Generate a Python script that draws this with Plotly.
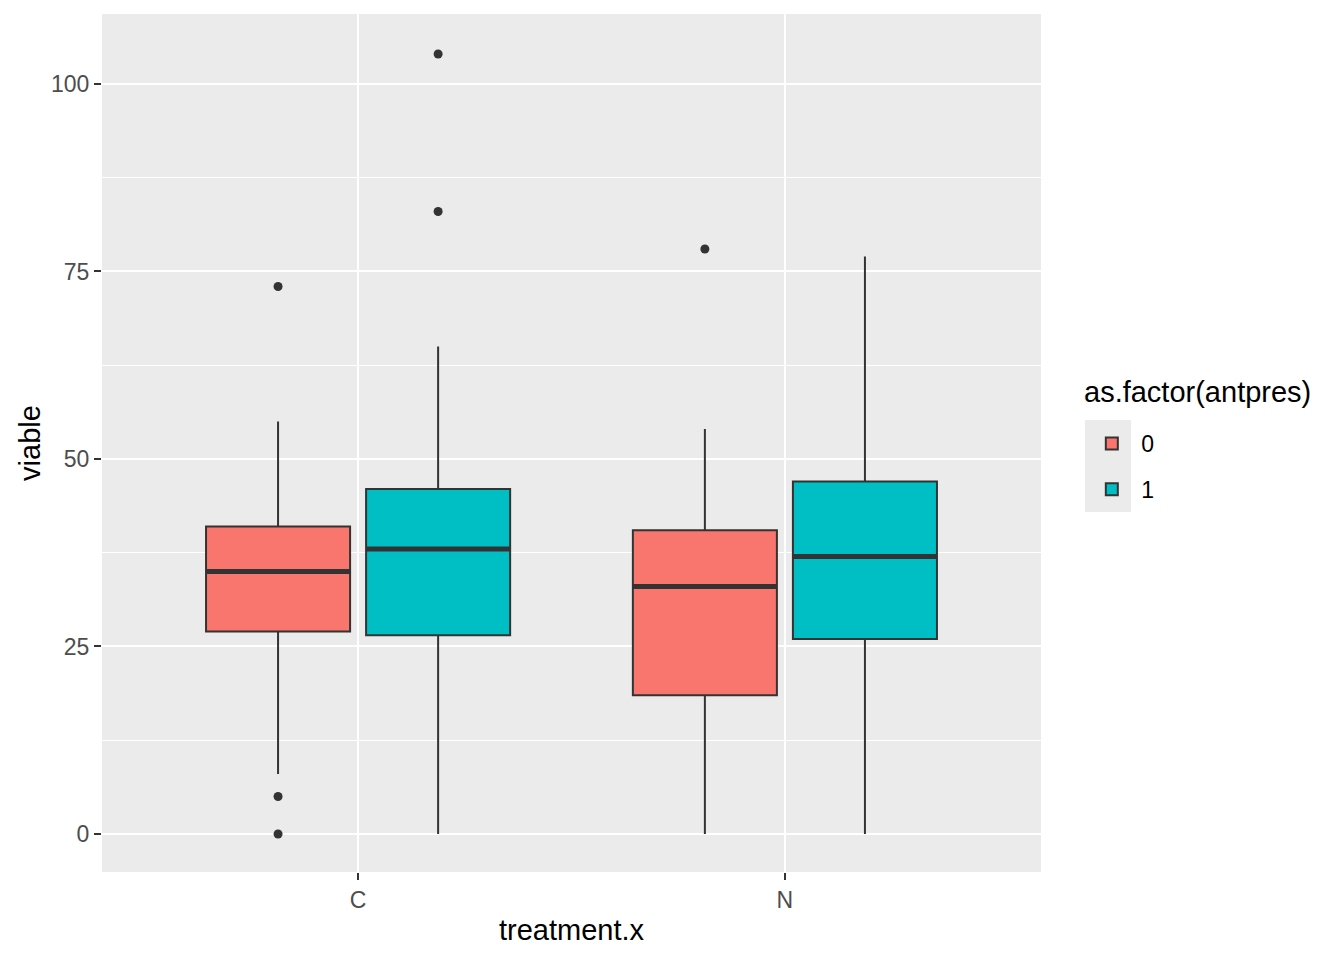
import plotly.graph_objects as go

# ---- data ----
treatments = ["C", "N"]
groups = ["0", "1"]
colors = {"0": "#F8766D", "1": "#00BFC4"}

q1 = {"0": [27, 18.5], "1": [26.5, 26]}
median = {"0": [35, 33], "1": [38, 37]}
q3 = {"0": [41, 40.5], "1": [46, 47]}
lower = {"0": [8, 0], "1": [0, 0]}
upper = {"0": [55, 54], "1": [65, 77]}
outliers = {
    "0": [[73, 5, 0], [78]],
    "1": [[83, 104], []],
}
legend_title = "as.factor(antpres)"

# ---- layout helpers ----
box_w = 0.3375
offsets = {"0": -0.1875, "1": 0.1875}
line_col = "#333333"

fig = go.Figure()
for g in groups:
    xs = [i + 1 + offsets[g] for i in range(len(treatments))]
    fig.add_trace(go.Box(
        x=xs, q1=q1[g], median=median[g], q3=q3[g],
        lowerfence=lower[g], upperfence=upper[g],
        width=box_w, whiskerwidth=0,
        fillcolor=colors[g], line=dict(color=line_col, width=2),
        name=g, legendgroup=g, boxpoints=False, hoverinfo="skip",
    ))
    for i, x in enumerate(xs):
        fig.add_trace(go.Scatter(
            x=[x - box_w / 2, x + box_w / 2], y=[median[g][i]] * 2,
            mode="lines", line=dict(color=line_col, width=5),
            showlegend=False, hoverinfo="skip",
        ))
        if outliers[g][i]:
            fig.add_trace(go.Scatter(
                x=[x] * len(outliers[g][i]), y=outliers[g][i],
                mode="markers", marker=dict(color=line_col, size=9),
                showlegend=False, hoverinfo="skip",
            ))

fig.update_layout(
    width=1344, height=960,
    margin=dict(l=94, r=311, t=6, b=96),
    paper_bgcolor="white", plot_bgcolor="#EBEBEB",
    font=dict(family="Liberation Sans, Arial, sans-serif", color="#000000"),
    legend=dict(
        font=dict(size=23), x=1.044, xanchor="left", y=0.5245, yanchor="top",
        bgcolor="rgba(0,0,0,0)", tracegroupgap=13, itemwidth=49,
    ),
    showlegend=True,
    annotations=[dict(
        text=legend_title, xref="paper", yref="paper", x=1.044, y=0.5594,
        xanchor="left", yanchor="middle", showarrow=False, font=dict(size=29),
    )],
    shapes=[dict(
        type="rect", xref="paper", yref="paper", x0=1.0469, x1=1.0958,
        y0=0.4196, y1=0.5268, fillcolor="#EBEBEB", line=dict(width=0), layer="below",
    )],
)
fig.update_xaxes(
    range=[0.4, 2.6], tickvals=[1, 2], ticktext=treatments,
    showgrid=True, gridcolor="white", gridwidth=2, zeroline=False,
    ticks="outside", ticklen=7, tickwidth=2, tickcolor=line_col,
    tickfont=dict(size=23, color="#4D4D4D"),
    title=dict(text="treatment.x", font=dict(size=29), standoff=8),
)
fig.update_yaxes(
    range=[-5.07, 109.33], tickvals=[0, 25, 50, 75, 100],
    showgrid=True, gridcolor="white", gridwidth=2, zeroline=False,
    minor=dict(tickvals=[12.5, 37.5, 62.5, 87.5], showgrid=True, gridcolor="white", gridwidth=1),
    ticks="outside", ticklen=7, tickwidth=2, tickcolor=line_col,
    tickfont=dict(size=23, color="#4D4D4D"),
    title=dict(text="viable", font=dict(size=29), standoff=1),
)

fig.write_html("out.html")
